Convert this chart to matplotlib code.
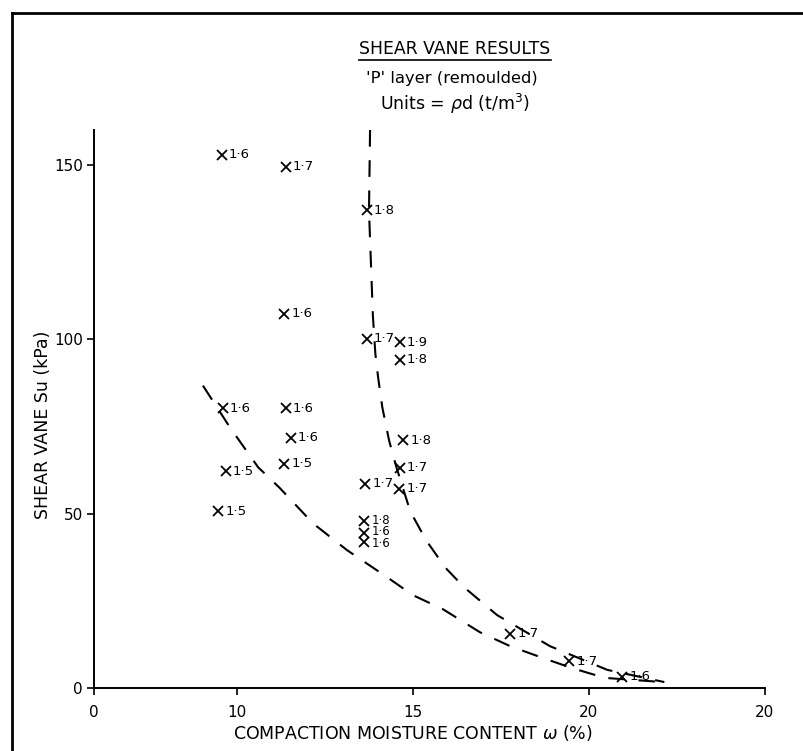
import numpy as np
import matplotlib
matplotlib.use("Agg")
import matplotlib.pyplot as plt
from matplotlib.lines import Line2D

plt.rcParams['font.family'] = ['DejaVu Sans']

# Compaction moisture content (%) and remoulded shear vane strength (kPa)
moisture = [8.93, 11.39, 13.68, 11.34, 13.68, 14.63, 14.63,
            9.00, 11.39, 11.53, 9.23, 11.34, 8.69, 13.65,
            14.73, 14.63, 14.61,
            17.76, 19.44, 20.95]
shear = [152.9, 149.4, 137.0, 107.3, 100.1, 99.1, 94.1,
         80.2, 80.2, 71.8, 62.2, 64.3, 50.7, 58.6,
         71.0, 63.2, 57.2,
         15.6, 7.7, 3.2]
# dry density labels (t/m3)
density = ["1·6", "1·7", "1·8", "1·6", "1·7", "1·9", "1·8",
           "1·6", "1·6", "1·6", "1·5", "1·5", "1·5", "1·7",
           "1·8", "1·7", "1·7",
           "1·7", "1·7", "1·6"]

# three tests at the same moisture content, labelled as a column
stack_moisture = [13.60, 13.60, 13.60]
stack_shear = [47.8, 44.5, 41.9]
stack_density = ["1·8", "1·6", "1·6"]

# hand-fitted trend curves
curve_a_w = [13.78, 13.75, 13.86, 13.93, 14.01, 14.13, 14.32, 14.52, 14.92,
             15.37, 15.91, 16.45, 17.39, 18.89, 20.52, 22.14]
curve_a_su = [160.0, 136.8, 106.8, 95.9, 89.0, 80.4, 71.0, 63.6, 50.7,
              42.4, 34.6, 28.9, 20.9, 12.0, 5.2, 1.7]
curve_b_w = [7.62, 9.51, 10.60, 11.22, 12.16, 13.13, 14.26, 15.00, 15.85,
             16.90, 17.76, 18.69, 19.52, 20.45, 22.10]
curve_b_su = [86.7, 74.7, 63.3, 57.3, 47.2, 39.5, 31.8, 26.6, 22.6,
              16.0, 12.0, 8.6, 5.7, 2.9, 1.7]

x_ticks = [0, 10, 15, 20, 25]
x_tick_labels = ["0", "10", "15", "20", "20"]
y_ticks = [0, 50, 100, 150]
y_tick_labels = ["0", "50", "100", "150"]

# axis compressed below 10 %
K = 0.40625


def fwd(x):
    x = np.asarray(x, dtype=float)
    return np.where(x < 10, x * K, 10 * K + (x - 10))


def inv(u):
    u = np.asarray(u, dtype=float)
    return np.where(u < 10 * K, u / K, (u - 10 * K) + 10)


fig = plt.figure(figsize=(8.04, 7.51), dpi=100)
ax = fig.add_axes([94 / 804, 63 / 751, 671 / 804, 558 / 751])
ax.set_xscale('function', functions=(fwd, inv))
ax.set_xlim(0, 25)
ax.set_ylim(0, 160)

for s in ['top', 'right']:
    ax.spines[s].set_visible(False)
for s in ['left', 'bottom']:
    ax.spines[s].set_linewidth(1.4)

ax.set_xticks(x_ticks)
ax.set_xticklabels(x_tick_labels)
ax.set_yticks(y_ticks)
ax.set_yticklabels(y_tick_labels)
ax.xaxis.set_minor_locator(matplotlib.ticker.NullLocator())
ax.tick_params(axis='both', direction='out', length=5, width=1.2,
               labelsize=11)
ax.tick_params(axis='x', pad=7)
ax.tick_params(axis='y', pad=3)

dash = (8, 6.5)
ax.plot(curve_a_w, curve_a_su, color='black', lw=1.5, dashes=dash,
        clip_on=False)
ax.plot(curve_b_w, curve_b_su, color='black', lw=1.5, dashes=dash,
        clip_on=False)

ax.plot(moisture + stack_moisture, shear + stack_shear, linestyle='none',
        marker='x', color='black', markersize=6.5, markeredgewidth=1.3)
for w, su, d in zip(moisture, shear, density):
    ax.annotate(d, (w, su), xytext=(5, 0), textcoords='offset points',
                fontsize=9.5, va='center', ha='left')
ax.annotate("\n".join(stack_density),
            (stack_moisture[0], float(np.mean(stack_shear))),
            xytext=(5.5, 0), textcoords='offset points', fontsize=8.5,
            va='center', ha='left', linespacing=0.85)

ax.set_xlabel("COMPACTION MOISTURE CONTENT $\\omega$ (%)", fontsize=12.5)
ax.xaxis.set_label_coords((413 - 94) / 671, -0.063)
ax.set_ylabel("SHEAR VANE Su (kPa)", fontsize=12.5)
ax.yaxis.set_label_coords(-0.062, (688 - 425) / 558)

title = fig.text(455 / 804, 1 - 49 / 751, "SHEAR VANE RESULTS",
                 ha='center', va='center', fontsize=12.4)
fig.text(452 / 804, 1 - 78 / 751, "'P' layer (remoulded)",
         ha='center', va='center', fontsize=11.8)
fig.text(455 / 804, 1 - 104 / 751, "Units = $\\rho$d (t/m$^3$)",
         ha='center', va='center', fontsize=12.5)

# underline beneath the title
fig.canvas.draw()
bb = title.get_window_extent()
uy = (bb.y0 - 2) / fig.bbox.height
fig.add_artist(Line2D([bb.x0 / fig.bbox.width, bb.x1 / fig.bbox.width],
                      [uy, uy], color='black', lw=1.2))

# page frame
fig.add_artist(Line2D([12 / 804, 12 / 804], [0, 1 - 13 / 751],
                      color='black', lw=2))
fig.add_artist(Line2D([12 / 804, 1], [1 - 13 / 751, 1 - 13 / 751],
                      color='black', lw=2))

fig.savefig("out.png", dpi=100)
